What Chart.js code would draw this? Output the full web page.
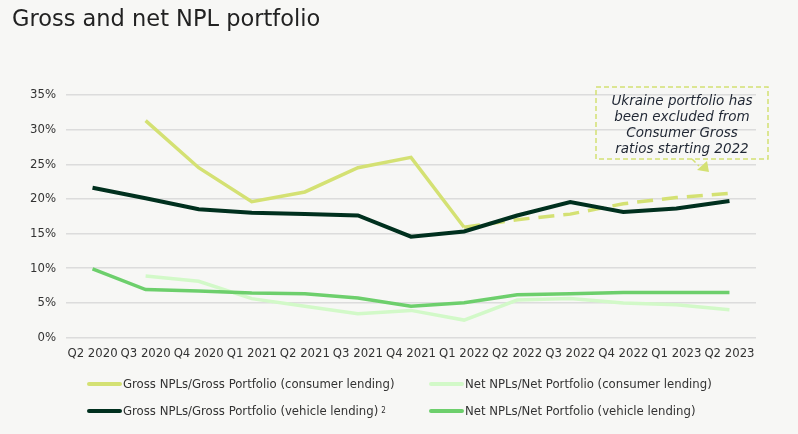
<!DOCTYPE html>
<html>
<head>
<meta charset="utf-8">
<script src="https://cdn.jsdelivr.net/npm/chart.js@4"></script>
<style>
  html, body { margin:0; padding:0; background:#f7f7f5; }
  #wrap { position:relative; width:798px; height:434px; background:#f7f7f5; overflow:hidden; }
  #title { position:absolute; left:12px; top:5px; font-family:'DejaVu Sans', Verdana, sans-serif; font-size:22.5px; color:#222; }
  #cv { position:absolute; left:0; top:0; }
  #legend { position:absolute; left:0; top:0; width:798px; height:434px; pointer-events:none; font-family:'DejaVu Sans Condensed','Liberation Sans Narrow',sans-serif; font-size:13px; color:#333; }
  .li { position:absolute; display:flex; align-items:center; white-space:nowrap; }
  .sw { width:35px; height:4px; border-radius:2px; margin-right:1px; }
  sup { font-size:8px; vertical-align:6px; margin-left:3px; }
</style>
</head>
<body>
<div id="wrap">
  <canvas id="cv" width="798" height="434"></canvas>
  <div id="title">Gross and net NPL portfolio</div>
  <div id="legend"></div>
</div>
<script>
const categories = ['Q2 2020','Q3 2020','Q4 2020','Q1 2021','Q2 2021','Q3 2021','Q4 2021','Q1 2022','Q2 2022','Q3 2022','Q4 2022','Q1 2023','Q2 2023'];
const yTicks = [0,5,10,15,20,25,30,35];
const grossConsumer = [null, 31.3, 24.5, 19.6, 21.0, 24.5, 26.0, 15.9, null, null, null, null, null];
const grossConsumerExUkraine = [null, null, null, null, null, null, null, 15.9, 17.0, 17.8, 19.3, 20.2, 20.8];
const netConsumer = [null, 8.85, 8.1, 5.6, 4.5, 3.4, 3.9, 2.5, 5.4, 5.6, 4.95, 4.7, 4.0];
const grossVehicle = [21.6, 20.1, 18.5, 18.0, 17.8, 17.6, 14.55, 15.3, 17.6, 19.55, 18.1, 18.6, 19.7];
const netVehicle = [9.9, 6.9, 6.7, 6.4, 6.3, 5.7, 4.5, 5.0, 6.15, 6.3, 6.5, 6.5, 6.5];
const labels = {
  grossConsumer: 'Gross NPLs/Gross Portfolio (consumer lending)',
  netConsumer: 'Net NPLs/Net Portfolio (consumer lending)',
  grossVehicle: 'Gross NPLs/Gross Portfolio (vehicle lending)',
  netVehicle: 'Net NPLs/Net Portfolio (vehicle lending)'
};
const noteText = ['Ukraine portfolio has','been excluded from','Consumer Gross','ratios starting 2022'];

const C = { gc:'#d4e173', nc:'#d2f9c8', gv:'#00301e', nv:'#6dcf6c' };
const tickFont = { family:"'DejaVu Sans Condensed','Liberation Sans Narrow',sans-serif", size:13 };

const noteBox = {
  id:'noteBox',
  afterDraw(chart){
    const ctx = chart.ctx;
    ctx.save();
    const x0=596, y0=87, w=172, h=72;
    ctx.setLineDash([5,3]);
    ctx.strokeStyle='#d4e173';
    ctx.lineWidth=1.5;
    ctx.strokeRect(x0,y0,w,h);
    ctx.beginPath();
    ctx.moveTo(692,159); ctx.lineTo(699,166);
    ctx.stroke();
    ctx.setLineDash([]);
    ctx.fillStyle='#d4e173';
    ctx.beginPath();
    ctx.moveTo(697,170); ctx.lineTo(707,161); ctx.lineTo(709,172); ctx.closePath();
    ctx.fill();
    ctx.fillStyle='#1f2633';
    ctx.font="italic 13.5px 'DejaVu Sans', Verdana, sans-serif";
    ctx.textAlign='center';
    ctx.textBaseline='middle';
    noteText.forEach((t,i)=>ctx.fillText(t, x0+w/2, y0+14+i*16));
    ctx.restore();
  }
};

const chart = new Chart(document.getElementById('cv'), {
  type:'line',
  data:{
    labels:categories,
    datasets:[
      { label:labels.grossConsumer, data:grossConsumer, borderColor:C.gc, borderWidth:3.5, pointRadius:0, tension:0, order:3 },
      { label:'', data:grossConsumerExUkraine, borderColor:C.gc, borderWidth:3.5, borderDash:[16,9], pointRadius:0, tension:0, order:3 },
      { label:labels.netConsumer, data:netConsumer, borderColor:C.nc, borderWidth:3.5, pointRadius:0, tension:0, order:4 },
      { label:labels.grossVehicle, data:grossVehicle, borderColor:C.gv, borderWidth:4, pointRadius:0, tension:0, order:1 },
      { label:labels.netVehicle, data:netVehicle, borderColor:C.nv, borderWidth:3.5, pointRadius:0, tension:0, order:2 }
    ]
  },
  options:{
    responsive:false,
    animation:false,
    layout:{ padding:{ left:20, right:42, top:95, bottom:65 } },
    plugins:{ legend:{ display:false }, tooltip:{ enabled:false }, title:{ display:false } },
    scales:{
      x:{
        offset:true,
        grid:{ display:false, drawTicks:false },
        border:{ display:false },
        ticks:{ color:'#333', font:tickFont, maxRotation:0, autoSkip:false, padding:8 }
      },
      y:{
        min:0, max:35,
        afterBuildTicks(axis){ axis.ticks = yTicks.map(v=>({value:v})); },
        grid:{ color:'#dcdcdc', lineWidth:1.5, drawTicks:false },
        border:{ display:false },
        ticks:{ color:'#333', font:tickFont, padding:10, callback:v=>v+'%' }
      }
    }
  },
  plugins:[noteBox]
});

const leg = document.getElementById('legend');
const items = [
  { ds:0, x:87, y:376 }, { ds:2, x:429, y:376 },
  { ds:3, x:87, y:403, sup:'2' }, { ds:4, x:429, y:403 }
];
items.forEach(it=>{
  const d = chart.data.datasets[it.ds];
  const el = document.createElement('div');
  el.className='li';
  el.style.left=it.x+'px'; el.style.top=it.y+'px';
  const sw=document.createElement('span'); sw.className='sw'; sw.style.background=d.borderColor;
  const tx=document.createElement('span'); tx.textContent=d.label;
  el.appendChild(sw); el.appendChild(tx);
  if(it.sup){ const s=document.createElement('sup'); s.textContent=it.sup; el.appendChild(s); }
  leg.appendChild(el);
});
</script>
</body>
</html>
